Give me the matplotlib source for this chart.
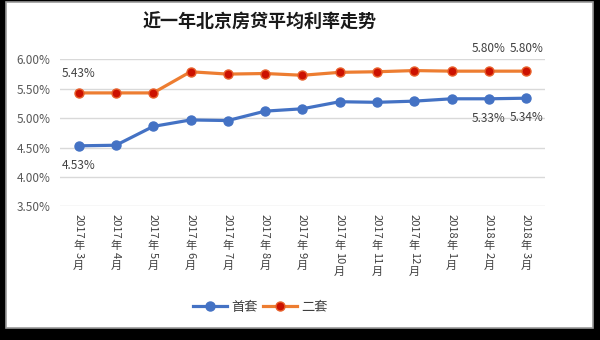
import re
import matplotlib
matplotlib.use('Agg')
import matplotlib.pyplot as plt
import matplotlib.transforms as mtransforms
from matplotlib.patches import Rectangle
from matplotlib.lines import Line2D
from matplotlib.font_manager import FontProperties

# data
months = ['2017年3月', '2017年4月', '2017年5月', '2017年6月', '2017年7月',
          '2017年8月', '2017年9月', '2017年10月', '2017年11月', '2017年12月',
          '2018年1月', '2018年2月', '2018年3月']
first_home = [4.53, 4.54, 4.86, 4.97, 4.96, 5.12, 5.16, 5.28, 5.27, 5.29, 5.33, 5.33, 5.34]
second_home = [5.43, 5.43, 5.43, 5.79, 5.75, 5.76, 5.73, 5.78, 5.79, 5.81, 5.80, 5.80, 5.80]
y_ticks = [3.5, 4.0, 4.5, 5.0, 5.5, 6.0]
title = '近一年北京房贷平均利率走势'

plt.rcParams['font.family'] = ['Noto Sans CJK SC', 'DejaVu Sans']

fig = plt.figure(figsize=(6, 3.4), dpi=100, facecolor='black')
fig.patches.append(Rectangle((6/600, 12/340), 587/600, 326/340, transform=fig.transFigure,
                             facecolor='white', edgecolor='#9a9a9a', lw=1.2, zorder=-10))

ax = fig.add_axes([0.1, 0.393, 0.808, 0.4323])
ax.set_facecolor('none')
x = list(range(len(months)))
ax.plot(x, first_home, color='#4472C4', lw=2.3, marker='o', ms=6.5,
        mfc='#4472C4', mec='#4472C4', zorder=3)
ax.plot(x, second_home, color='#ED7D31', lw=2.3, marker='o', ms=6.5,
        mfc='#CC1100', mec='#E8612C', mew=1, zorder=3)

ax.set_xlim(-0.5, len(months) - 0.5)
ax.set_ylim(3.5, 6.0)
ax.set_yticks(y_ticks)
ax.set_yticklabels([f'{v:.2f}%' for v in y_ticks])
ax.set_xticks(x)
ax.set_xticklabels([])
ax.yaxis.grid(True, color='#D9D9D9', lw=1)
ax.set_axisbelow(True)
for s in ax.spines.values():
    s.set_visible(False)
ax.tick_params(length=0, labelsize=8.5, labelcolor='#595959', pad=7)

# data labels
lab_kw = dict(textcoords='offset points', ha='center', va='center', fontsize=8.5, color='#404040')
ax.annotate(f'{second_home[0]:.2f}%', (0, second_home[0]), xytext=(0, 14), **lab_kw)
ax.annotate(f'{first_home[0]:.2f}%', (0, first_home[0]), xytext=(0, -14), **lab_kw)
for i in (11, 12):
    ax.annotate(f'{second_home[i]:.2f}%', (i, second_home[i]), xytext=(0, 16), **lab_kw)
    ax.annotate(f'{first_home[i]:.2f}%', (i, first_home[i]), xytext=(0, -14), **lab_kw)

# vertical (stacked) x labels: digits turned, CJK upright
renderer = fig.canvas.get_renderer()
base = ax.get_xaxis_transform()
fs = 8
fp = FontProperties(family=['Noto Sans CJK SC', 'DejaVu Sans'], size=fs)
for i, lab in enumerate(months):
    off = 5.0
    for seg in re.findall(r'\d+|\D', lab):
        if seg.isdigit():
            w, h, d = renderer.get_text_width_height_descent(seg, fp, ismath=False)
            wpt = w * 72 / fig.dpi
            tr = base + mtransforms.ScaledTranslation(-0.3 / 72, -(off + 0.5) / 72, fig.dpi_scale_trans)
            ax.text(i, 0, seg, transform=tr, rotation=-90, ha='center', va='top',
                    fontsize=fs, color='#404040')
            off += wpt + 1.2
        else:
            tr = base + mtransforms.ScaledTranslation(0, -(off + 0.86 * fs) / 72, fig.dpi_scale_trans)
            ax.text(i, 0, seg, transform=tr, ha='center', va='baseline',
                    fontsize=fs, color='#404040')
            off += fs + 0.6

fig.text(260/600, 1 - 22/340, title, ha='center', va='center', fontsize=13,
         fontweight='bold', color='#1a1a1a')

handles = [Line2D([], [], color='#4472C4', lw=2.3, marker='o', ms=6.5, mfc='#4472C4', mec='#4472C4'),
           Line2D([], [], color='#ED7D31', lw=2.3, marker='o', ms=6.5, mfc='#CC1100', mec='#E8612C')]
fig.legend(handles, ['首套', '二套'], loc='center', bbox_to_anchor=(260/600, 1 - 307/340),
           ncol=2, frameon=False, fontsize=9.5, handlelength=2.6, columnspacing=0.4,
           handletextpad=0.3, labelcolor='#404040')

fig.savefig('out.png', dpi=100, facecolor='black')
